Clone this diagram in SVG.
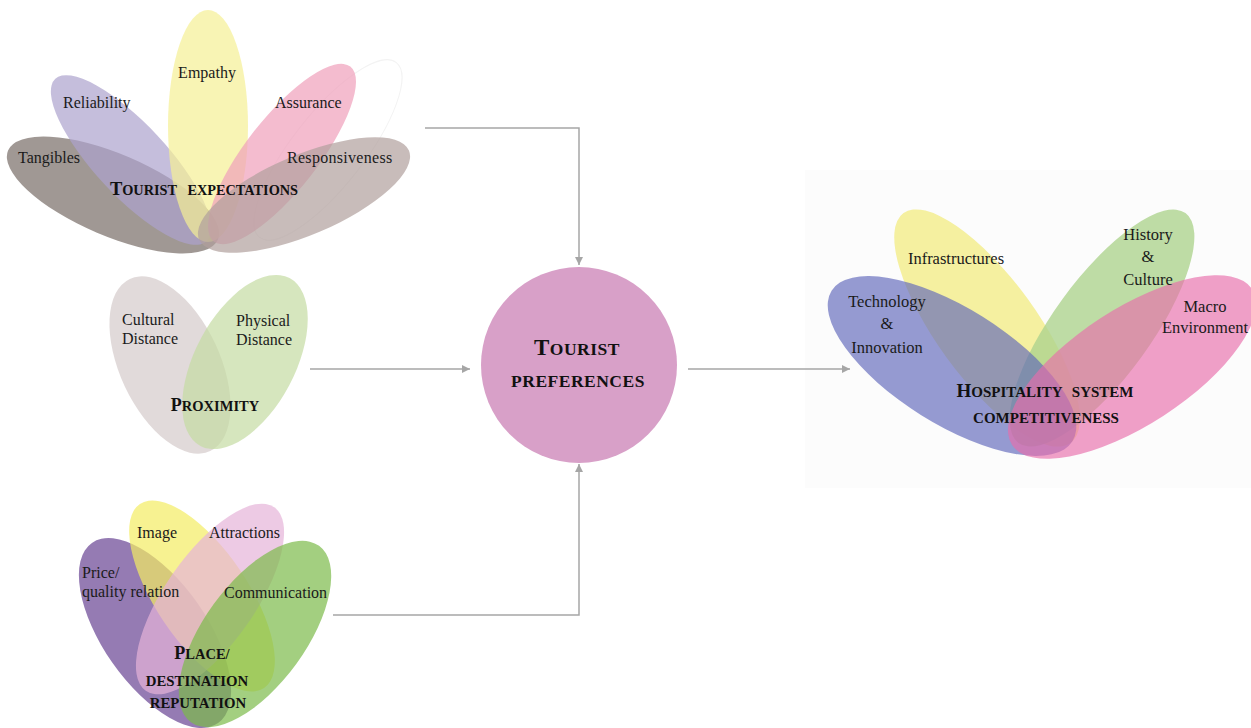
<svg xmlns="http://www.w3.org/2000/svg" width="1251" height="728" viewBox="0 0 1251 728">
<style>
.lbl{font-family:"Liberation Serif","Times New Roman",serif;font-size:16px;fill:#1a1a1a;}
.lblr{font-family:"Liberation Serif","Times New Roman",serif;font-size:16.5px;fill:#1a1a1a;text-anchor:middle;}
.ttl{font-family:"Liberation Serif","Times New Roman",serif;font-weight:bold;fill:#111;text-anchor:middle;}
.conn{fill:none;stroke:#a6a6a6;stroke-width:1.5;}
.p{fill-opacity:0.7;}
.q{fill-opacity:0.8;}
.r{fill-opacity:0.65;}
</style>
<defs>
<marker id="ah" viewBox="0 0 10 10" refX="10" refY="5" markerWidth="8" markerHeight="8" markerUnits="userSpaceOnUse" orient="auto">
<path d="M0,0 L10,5 L0,10 z" fill="#a6a6a6"/>
</marker>
</defs>
<rect width="1251" height="728" fill="#ffffff"/>

<g id="tourist-expectations">
<ellipse cx="328" cy="150" rx="111" ry="36" fill="none" stroke="#f3f3f3" stroke-width="1" transform="rotate(-52 328 150)"/>
<ellipse class="p" cx="113" cy="195" rx="114" ry="41" fill="#776c66" transform="rotate(23 113 195)"/>
<ellipse class="p" cx="131" cy="160" rx="111" ry="36" fill="#aca2cd" transform="rotate(47 131 160)"/>
<ellipse class="p" cx="208" cy="126" rx="40" ry="116" fill="#f5ef94"/>
<ellipse class="p" cx="282" cy="154" rx="111" ry="36" fill="#ef9fbb" transform="rotate(-52 282 154)"/>
<ellipse class="p" cx="304" cy="195" rx="114" ry="40" fill="#b09f9c" transform="rotate(-23 304 195)"/>
<text class="lbl" x="207" y="78" text-anchor="middle">Empathy</text>
<text class="lbl" x="63" y="108">Reliability</text>
<text class="lbl" x="275" y="108">Assurance</text>
<text class="lbl" x="18" y="163">Tangibles</text>
<text class="lbl" x="287" y="163" letter-spacing="0.3">Responsiveness</text>
<text class="ttl" x="204" y="195" word-spacing="7"><tspan font-size="18.5">T</tspan><tspan font-size="14.3">OURIST EXPECTATIONS</tspan></text>
</g>

<g id="proximity">
<ellipse class="p" cx="170" cy="365" rx="50" ry="95" fill="#d4caca" transform="rotate(-25 170 365)"/>
<ellipse class="p" cx="245" cy="362" rx="50" ry="95" fill="#c4dba2" transform="rotate(28 245 362)"/>
<text class="lbl" x="122" y="325">Cultural</text>
<text class="lbl" x="122" y="344">Distance</text>
<text class="lbl" x="236" y="326">Physical</text>
<text class="lbl" x="236" y="345">Distance</text>
<text class="ttl" x="215" y="411"><tspan font-size="18">P</tspan><tspan font-size="14.5">ROXIMITY</tspan></text>
</g>

<g id="place-reputation">
<ellipse class="q" cx="155" cy="633" rx="52" ry="110" fill="#7a5aa0" transform="rotate(-35 155 633)"/>
<ellipse class="p" cx="202" cy="596" rx="46" ry="111" fill="#f3ec63" transform="rotate(-34 202 596)"/>
<ellipse class="p" cx="210" cy="599" rx="45" ry="112" fill="#e6b4d9" transform="rotate(35 210 599)"/>
<ellipse class="p" cx="255" cy="634" rx="51" ry="109" fill="#7cba4a" transform="rotate(36 255 634)"/>
<text class="lbl" x="137" y="538">Image</text>
<text class="lbl" x="209" y="538">Attractions</text>
<text class="lbl" x="82" y="578">Price/</text>
<text class="lbl" x="82" y="597">quality relation</text>
<text class="lbl" x="224" y="598">Communication</text>
<text class="ttl" x="202" y="659"><tspan font-size="18">P</tspan><tspan font-size="14.5">LACE/</tspan></text>
<text class="ttl" x="197" y="686" font-size="14.8">DESTINATION</text>
<text class="ttl" x="198" y="708" font-size="14.8">REPUTATION</text>
</g>

<g id="tourist-preferences">
<circle cx="579" cy="365" r="98" fill="#d8a0c8"/>
<text class="ttl" x="577" y="355" letter-spacing="0.5"><tspan font-size="23">T</tspan><tspan font-size="17.5">OURIST</tspan></text>
<text class="ttl" x="578" y="387" font-size="17.5" letter-spacing="0.5">PREFERENCES</text>
</g>

<g id="hospitality-competitiveness">
<rect x="805" y="170" width="446" height="318" fill="#fcfcfc"/>
<ellipse class="q" cx="987" cy="328" rx="142" ry="50" fill="#f3ec88" transform="rotate(54 987 328)"/>
<ellipse class="q" cx="1102" cy="328" rx="142" ry="49" fill="#aed38e" transform="rotate(-54 1102 328)"/>
<ellipse class="r" cx="952" cy="366" rx="142" ry="58" fill="#5d65ba" transform="rotate(32 952 366)"/>
<ellipse class="r" cx="1132" cy="367" rx="143" ry="58" fill="#e86daa" transform="rotate(-33 1132 367)"/>
<text class="lblr" x="956" y="264">Infrastructures</text>
<text class="lblr" x="1148" y="240">History</text>
<text class="lblr" x="1148" y="262">&amp;</text>
<text class="lblr" x="1148" y="285">Culture</text>
<text class="lblr" x="1205" y="312">Macro</text>
<text class="lblr" x="1205" y="333">Environment</text>
<text class="lblr" x="887" y="307">Technology</text>
<text class="lblr" x="887" y="329">&amp;</text>
<text class="lblr" x="887" y="353">Innovation</text>
<text class="ttl" x="1045" y="397" word-spacing="6"><tspan font-size="19">H</tspan><tspan font-size="15">OSPITALITY SYSTEM</tspan></text>
<text class="ttl" x="1046" y="423" font-size="15">COMPETITIVENESS</text>
</g>

<g id="connectors">
<path class="conn" d="M425,128 H579 V265" marker-end="url(#ah)"/>
<path class="conn" d="M310,369 H470" marker-end="url(#ah)"/>
<path class="conn" d="M333,615 H579 V464" marker-end="url(#ah)"/>
<path class="conn" d="M688,369 H850" marker-end="url(#ah)"/>
</g>
</svg>
